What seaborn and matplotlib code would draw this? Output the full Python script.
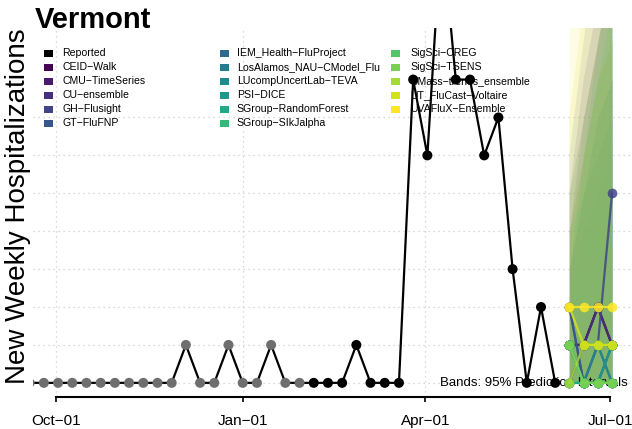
import numpy as np
import pandas as pd
import matplotlib
matplotlib.use("Agg")
import matplotlib.pyplot as plt
import matplotlib.dates as mdates
from matplotlib.patches import Rectangle
import seaborn as sns

# ---------------- data ----------------
report_dates = pd.date_range("2022-09-18", "2023-06-04", freq="7D")
reported = [0, 0, 0, 0, 0, 0, 0, 0, 0, 0, 0, 1, 0, 0, 1, 0, 0, 1, 0, 0,
            0, 0, 0, 1, 0, 0, 0, 8, 6, 12, 8, 8, 6, 7, 3, 0, 2, 0]
recent_cutoff = pd.Timestamp("2023-02-01")

forecast_dates = pd.to_datetime(["2023-06-11", "2023-06-18", "2023-06-25", "2023-07-02"])
models = ["CEID\u2212Walk", "CMU\u2212TimeSeries", "CU\u2212ensemble", "GH\u2212Flusight",
          "GT\u2212FluFNP", "IEM_Health\u2212FluProject", "LosAlamos_NAU\u2212CModel_Flu",
          "LUcompUncertLab\u2212TEVA", "PSI\u2212DICE", "SGroup\u2212RandomForest",
          "SGroup\u2212SIkJalpha", "SigSci\u2212CREG", "SigSci\u2212TSENS",
          "UMass\u2212trends_ensemble", "UT_FluCast\u2212Voltaire", "UVAFluX\u2212Ensemble"]
median_values = {
    "CEID\u2212Walk": [1, 1, 2, 1],
    "CMU\u2212TimeSeries": [1, 1, 2, 1],
    "CU\u2212ensemble": [0, 1, 2, 1],
    "GH\u2212Flusight": [2, 0, 1, 5],
    "GT\u2212FluFNP": [2, 0, 0, 1],
    "IEM_Health\u2212FluProject": [1, 0, 1, 0],
    "LosAlamos_NAU\u2212CModel_Flu": [1, 0, 0, 1],
    "LUcompUncertLab\u2212TEVA": [0, 0, 1, 0],
    "PSI\u2212DICE": [1, 0, 0, 1],
    "SGroup\u2212RandomForest": [0, 0, 0, 0],
    "SGroup\u2212SIkJalpha": [1, 0, 0, 0],
    "SigSci\u2212CREG": [1, 0, 0, 0],
    "SigSci\u2212TSENS": [1, 0, 0, 0],
    "UMass\u2212trends_ensemble": [0, 1, 1, 1],
    "UT_FluCast\u2212Voltaire": [2, 1, 1, 1],
    "UVAFluX\u2212Ensemble": [2, 2, 2, 2],
}
upper_values = {
    "CEID\u2212Walk": [4, 7, 9, 11],
    "CMU\u2212TimeSeries": [3, 5, 7, 8],
    "CU\u2212ensemble": [5, 8, 10, 12],
    "GH\u2212Flusight": [6, 9, 12, 15],
    "GT\u2212FluFNP": [4, 6, 8, 9],
    "IEM_Health\u2212FluProject": [3, 5, 6, 7],
    "LosAlamos_NAU\u2212CModel_Flu": [5, 7, 9, 11],
    "LUcompUncertLab\u2212TEVA": [4, 5, 7, 8],
    "PSI\u2212DICE": [3, 6, 9, 11],
    "SGroup\u2212RandomForest": [2, 4, 5, 6],
    "SGroup\u2212SIkJalpha": [3, 6, 8, 10],
    "SigSci\u2212CREG": [4, 6, 8, 10],
    "SigSci\u2212TSENS": [5, 7, 9, 11],
    "UMass\u2212trends_ensemble": [4, 6, 8, 9],
    "UT_FluCast\u2212Voltaire": [7, 10, 13, 16],
    "UVAFluX\u2212Ensemble": [10, 13, 16, 19],
}
band_lower = [0, 0, 0, 0]

tick_dates = pd.to_datetime(["2022-10-01", "2023-01-01", "2023-04-01", "2023-07-01"])
tick_labels = ["Oct\u221201", "Jan\u221201", "Apr\u221201", "Jul\u221201"]
grid_levels = [0, 1, 2, 3, 4, 5, 6, 7]

# ---------------- style ----------------
sns.set_theme(style="white")
plt.rcParams["font.family"] = ["Liberation Sans", "DejaVu Sans"]
plt.rcParams["text.color"] = "black"

W, H = 632, 429
fig = plt.figure(figsize=(W / 100, H / 100), dpi=100)
ax = fig.add_axes([33 / W, 1 - 396.5 / H, 599 / W, 368.5 / H])

vir = sns.color_palette("viridis", as_cmap=True)
palette = {m: vir(v) for m, v in zip(models, np.linspace(0, 1, len(models)))}

# grid
for d in tick_dates:
    ax.axvline(d, color="#cfcfcf", lw=0.9, ls=(0, (1, 3)), zorder=0)
for g in grid_levels:
    ax.axhline(g, color="#cfcfcf", lw=0.9, ls=(0, (1, 3)), zorder=0)

# prediction bands
for m in models:
    ax.fill_between(forecast_dates, band_lower, upper_values[m], color=palette[m],
                    alpha=0.12, lw=0, zorder=1)

# reported series
rep_df = pd.DataFrame({"date": report_dates, "value": reported})
rep_df["status"] = np.where(rep_df["date"] < recent_cutoff, "earlier", "recent")
sns.lineplot(data=rep_df, x="date", y="value", color="black", lw=1.6,
             errorbar=None, ax=ax, zorder=3)
sns.scatterplot(data=rep_df, x="date", y="value", hue="status",
                palette={"earlier": "#6e6e6e", "recent": "black"},
                s=52, linewidth=0, legend=False, ax=ax, zorder=4)

ax.text(tick_dates[-1] + pd.Timedelta(days=8.9), 0, "Bands: 95% Prediction Intervals",
        ha="right", va="center", fontsize=9.5, color="black", zorder=3.5)

# forecast medians
fc_rows = []
for m in models:
    for d, v in zip(forecast_dates, median_values[m]):
        fc_rows.append({"date": d, "value": v, "model": m})
fc_df = pd.DataFrame(fc_rows)
sns.lineplot(data=fc_df, x="date", y="value", hue="model", hue_order=models,
             palette=palette, lw=1.6, marker="o", markersize=7, markeredgewidth=0,
             alpha=0.85, errorbar=None, legend=False, ax=ax, zorder=5)

# axes
x0 = mdates.date2num(tick_dates[0]) - 11.34
x1 = mdates.date2num(tick_dates[-1]) + 10.84
ax.set_xlim(x0, x1)
ax.set_ylim(-0.36, 9.36)
ax.set_xticks(tick_dates)
ax.set_xticklabels(tick_labels)
ax.set_yticks([])
ax.set_xlabel("")
ax.set_ylabel("")
for s in ["top", "right", "left"]:
    ax.spines[s].set_visible(False)
ax.spines["bottom"].set_bounds(mdates.date2num(tick_dates[0]), mdates.date2num(tick_dates[-1]))
ax.spines["bottom"].set_linewidth(1.5)
ax.spines["bottom"].set_color("black")
ax.tick_params(axis="x", direction="out", length=3.6, width=1.2, pad=9,
               labelsize=11, colors="black", bottom=True)
ax.set_facecolor("none")

# titles
fig.text(35 / W, 1 - 28.5 / H, "Vermont", fontsize=21, fontweight="bold",
         ha="left", va="baseline", color="black")
fig.text(18 / W, 1 - 206 / H, "New Weekly Hospitalizations", fontsize=20,
         rotation=90, ha="center", va="center", color="black")

# legend (three columns, R style)
legend_labels = ["Reported"] + models
legend_colors = ["black"] + [palette[m] for m in models]
col_marker_x = [44, 220, 391]
col_text_x = [62.5, 236.7, 410]
row_y = [53.3, 67.3, 81.3, 95.3, 109.3, 123.3]
for i, (lab, col) in enumerate(zip(legend_labels, legend_colors)):
    c, r = divmod(i, 6)
    yc = row_y[r]
    ax.add_patch(Rectangle((col_marker_x[c] / W, 1 - (yc + 3.6) / H), 8.7 / W, 7.2 / H,
                           transform=fig.transFigure, facecolor=col, edgecolor="none",
                           clip_on=False, zorder=2))
    ax.text(col_text_x[c] / W, 1 - yc / H, lab, transform=fig.transFigure,
            fontsize=7.6, ha="left", va="center", color="black", zorder=2, clip_on=False)

fig.savefig("out.png", dpi=100)
